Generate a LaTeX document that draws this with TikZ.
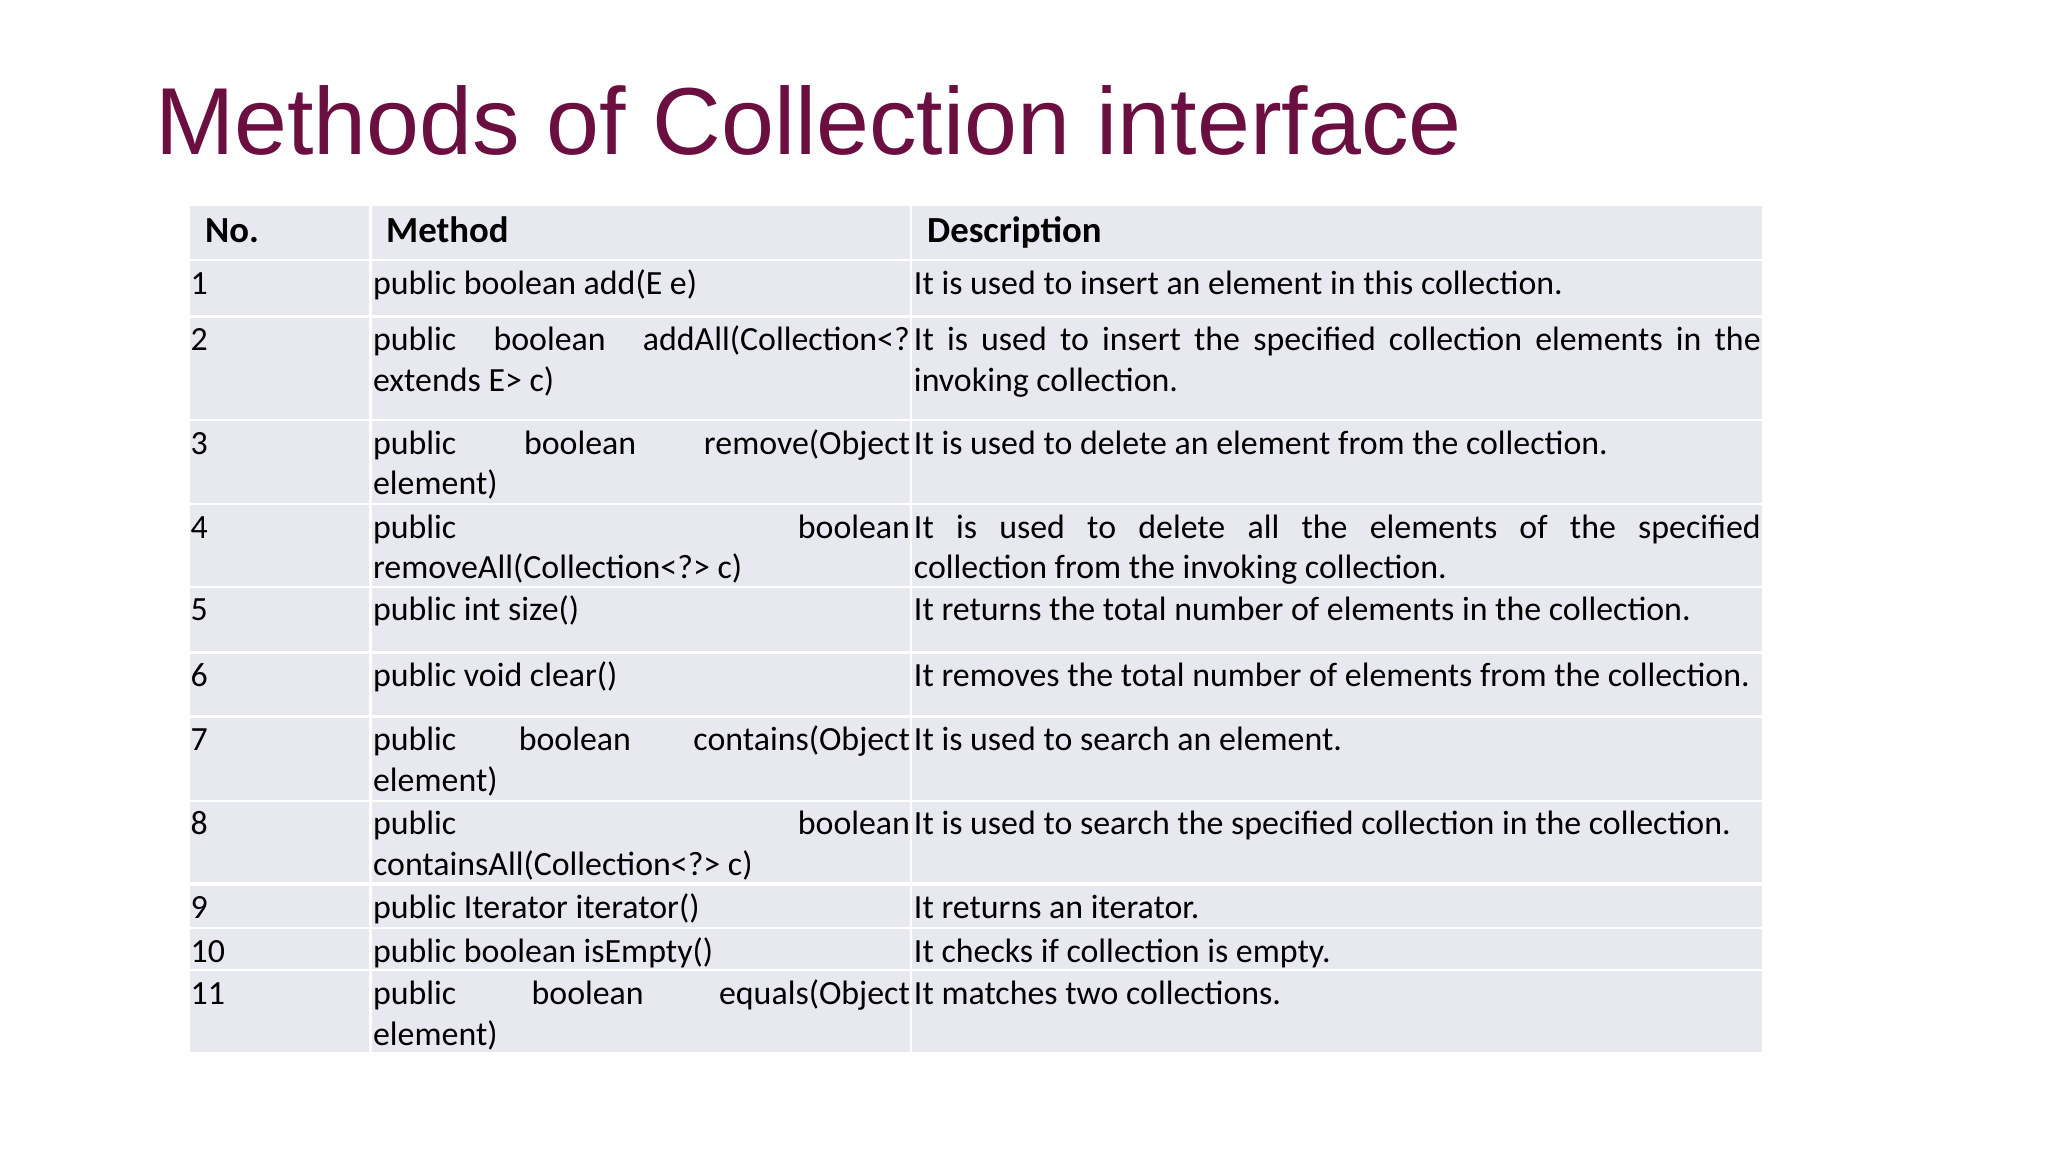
\documentclass[tikz,border=0pt]{standalone}
\usepackage{fontspec}
\setmainfont{Carlito}
\newfontfamily\titlefont{Liberation Sans}
\definecolor{titlec}{HTML}{6A0F40}
\definecolor{cellc}{HTML}{E8E8F1}
\begin{document}
\begin{tikzpicture}[x=1pt,y=-1pt,
  cell/.style={fill=cellc,draw=none},
  txt/.style={anchor=base west,inner sep=0pt,font=\fontsize{25.8}{31}\selectfont},
  hdr/.style={anchor=base west,inner sep=0pt,font=\fontsize{28}{31}\selectfont\bfseries}]
\useasboundingbox[fill=white] (0,0) rectangle (1560,877.5);
\node[anchor=base west,inner sep=0pt,text=titlec,font=\fontsize{72.5}{80}\titlefont] (title) at (118,118) {Methods of Collection interface};
\foreach \t/\b [count=\i] in {157/197,199/240,242/319,321/383,385/446,448/496,498/545,547/609,611/672,675/706,708/738,740/801}{
  \fill[cellc] (145,\t) rectangle (281,\b);
  \fill[cellc] (283,\t) rectangle (693,\b);
  \fill[cellc] (695,\t) rectangle (1342,\b);
}
\node[hdr] (h1) at (156,185) {No.};
\node[hdr] (h2) at (294,185) {Method};
\node[hdr] (h3) at (706,185) {Description};
\newcommand\mrow[5]{%
  \node[txt] (n#1) at (145,#2+25) {#1};
  \node[txt] (m#1) at (284,#2+25) {#3};
  \node[txt] (mm#1) at (284,#2+56) {#4};
  \node[txt] (d#1) at (696,#2+25) {#5};}
\mrow{1}{199}{public boolean add(E e)}{}{It is used to insert an element in this collection.}
\mrow{2}{242}{\makebox[409pt][s]{public boolean addAll(Collection<?}}{extends E> c)}{\makebox[645pt][s]{It is used to insert the specified collection elements in the}}
\node[txt] (d2b) at (696,298) {invoking collection.};
\mrow{3}{321}{\makebox[409pt][s]{public boolean remove(Object}}{element)}{It is used to delete an element from the collection.}
\mrow{4}{385}{\makebox[409pt][s]{public boolean}}{removeAll(Collection<?> c)}{\makebox[645pt][s]{It is used to delete all the elements of the specified}}
\node[txt] (d4b) at (696,441) {collection from the invoking collection.};
\mrow{5}{448}{public int size()}{}{It returns the total number of elements in the collection.}
\mrow{6}{498}{public void clear()}{}{It removes the total number of elements from the collection.}
\mrow{7}{547}{\makebox[409pt][s]{public boolean contains(Object}}{element)}{It is used to search an element.}
\mrow{8}{611}{\makebox[409pt][s]{public boolean}}{containsAll(Collection<?> c)}{It is used to search the specified collection in the collection.}
\mrow{9}{675}{public Iterator iterator()}{}{It returns an iterator.}
\mrow{10}{708}{public boolean isEmpty()}{}{It checks if collection is empty.}
\mrow{11}{740}{\makebox[409pt][s]{public boolean equals(Object}}{element)}{It matches two collections.}
\end{tikzpicture}
\end{document}
